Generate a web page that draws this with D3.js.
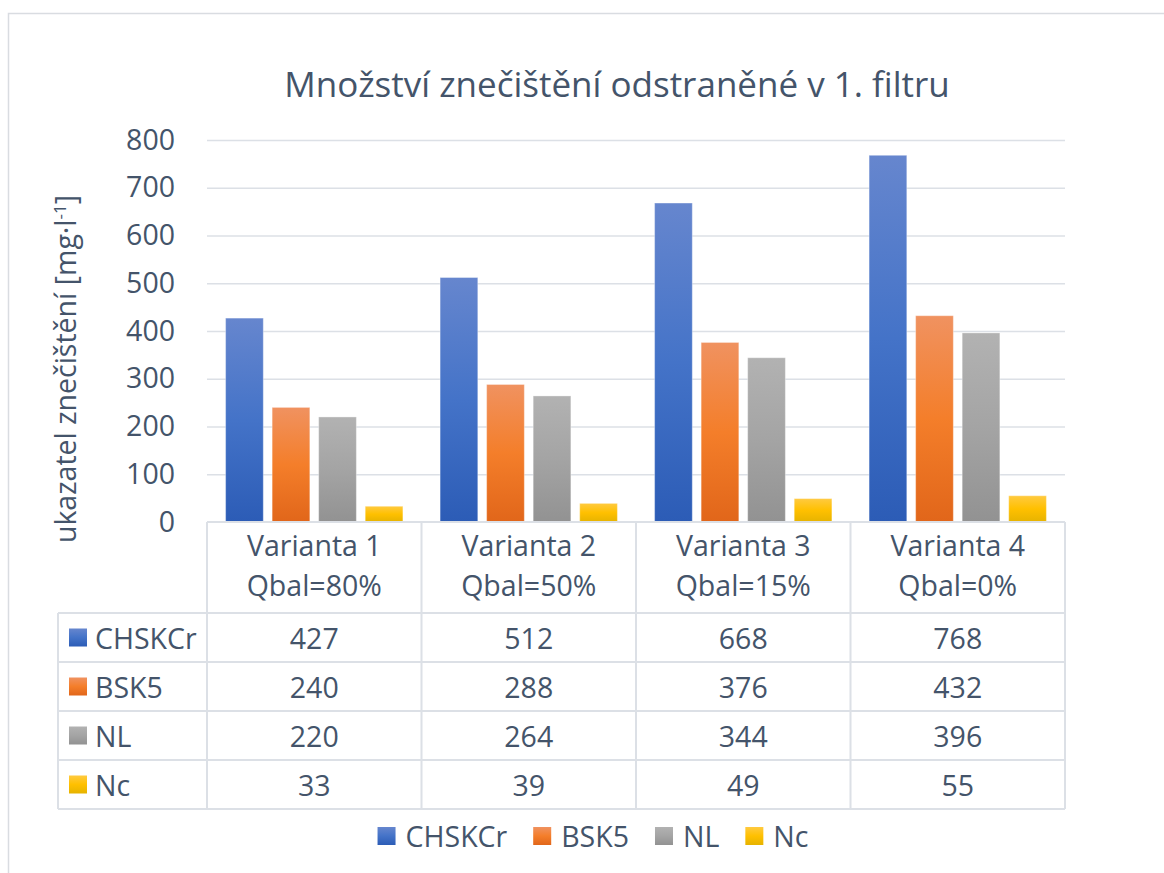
<!DOCTYPE html>
<html>
<head>
<meta charset="utf-8">
<script src="https://cdn.jsdelivr.net/npm/d3@7"></script>
<style>
  body { margin: 0; background: #fff; }
  svg text { font-family: "Open Sans", "Noto Sans", sans-serif; fill: #44546A; }
</style>
</head>
<body>
<svg id="chart" width="1164" height="873"></svg>
<script>
// data
const categories = ['Varianta 1', 'Varianta 2', 'Varianta 3', 'Varianta 4'];
const subLabels = ['Qbal=80%', 'Qbal=50%', 'Qbal=15%', 'Qbal=0%'];
const seriesNames = ['CHSKCr', 'BSK5', 'NL', 'Nc'];
const chskcr = [427, 512, 668, 768];
const bsk5 = [240, 288, 376, 432];
const nl = [220, 264, 344, 396];
const nc = [33, 39, 49, 55];
const yTicks = [0, 100, 200, 300, 400, 500, 600, 700, 800];

const seriesValues = [chskcr, bsk5, nl, nc];
// gradient stops top / middle / bottom
const seriesColors = [
  ['#6686CE', '#4473C8', '#2C5CB6'],
  ['#F09260', '#F47E2A', '#E1661A'],
  ['#B2B2B2', '#A4A4A4', '#929292'],
  ['#FFCA40', '#FFC000', '#E6B300']
];

const lineColor = '#DCE0E6';
const fontSize = '28.5px';
const svg = d3.select('#chart');

// layout
const plot = { left: 207, right: 1065, top: 140, bottom: 522 };
const table = { left: 58, headerBottom: 613, rowH: 49 };

// gradients
const defs = svg.append('defs');
seriesColors.forEach((c, i) => {
  const g = defs.append('linearGradient')
    .attr('id', 'grad' + i)
    .attr('x1', 0).attr('y1', 0).attr('x2', 0).attr('y2', 1);
  g.append('stop').attr('offset', '0%').attr('stop-color', c[0]);
  g.append('stop').attr('offset', '50%').attr('stop-color', c[1]);
  g.append('stop').attr('offset', '100%').attr('stop-color', c[2]);
});

// outer chart border
svg.append('rect')
  .attr('x', 8.5).attr('y', 13.5)
  .attr('width', 1200).attr('height', 900)
  .attr('fill', '#fff')
  .attr('stroke', '#D9DCE1').attr('stroke-width', 1.5);

// title
svg.append('text')
  .attr('x', 617).attr('y', 97)
  .attr('text-anchor', 'middle')
  .style('font-size', '35px')
  .text('Množství znečištění odstraněné v 1. filtru');

// scales
const x0 = d3.scaleBand().domain(categories).range([plot.left, plot.right]);
const x1 = d3.scaleBand().domain(seriesNames)
  .range([18.6, x0.bandwidth() - 18.6])
  .paddingInner(0.19);
const y = d3.scaleLinear().domain([0, 800]).range([plot.bottom, plot.top]);

// y axis + grid
const yAxis = svg.append('g')
  .attr('transform', `translate(${plot.left},0)`)
  .call(d3.axisLeft(y).tickValues(yTicks).tickSize(-(plot.right - plot.left)).tickPadding(32));
yAxis.select('.domain').remove();
yAxis.selectAll('.tick line')
  .attr('stroke', lineColor).attr('stroke-width', 1.5)
  .filter(d => d === 0).remove();
yAxis.selectAll('.tick text')
  .style('font-size', fontSize)
  .style('font-family', '"Open Sans", "Noto Sans", sans-serif')
  .attr('fill', '#44546A');

// y label
svg.append('text')
  .attr('transform', 'translate(76,369) rotate(-90)')
  .attr('text-anchor', 'middle')
  .style('font-size', fontSize)
  .call(t => {
    t.append('tspan').text('ukazatel znečištění [mg·l');
    t.append('tspan').attr('dy', -10).style('font-size', '17px').text('-1');
    t.append('tspan').attr('dy', 10).text(']');
  });

// bars
const groups = svg.append('g').selectAll('g')
  .data(categories)
  .join('g')
  .attr('transform', d => `translate(${x0(d)},0)`);

groups.selectAll('rect')
  .data((d, ci) => seriesNames.map((s, si) => ({ s, si, v: seriesValues[si][ci] })))
  .join('rect')
  .attr('x', d => x1(d.s))
  .attr('width', x1.bandwidth())
  .attr('y', d => y(d.v))
  .attr('height', d => y(0) - y(d.v))
  .attr('fill', d => `url(#grad${d.si})`)
  .attr('stroke', 'rgba(255,255,255,0.35)')
  .attr('stroke-width', 1);

// data table
const tableBottom = table.headerBottom + table.rowH * seriesNames.length;
const tg = svg.append('g').attr('stroke', lineColor).attr('stroke-width', 2).attr('fill', 'none');
// header top line
tg.append('line').attr('x1', plot.left).attr('x2', plot.right)
  .attr('y1', plot.bottom).attr('y2', plot.bottom);
// row lines
d3.range(seriesNames.length + 1).forEach(i => {
  const yy = table.headerBottom + i * table.rowH;
  tg.append('line').attr('x1', table.left).attr('x2', plot.right)
    .attr('y1', yy).attr('y2', yy);
});
// vertical lines
tg.append('line').attr('x1', table.left).attr('x2', table.left)
  .attr('y1', table.headerBottom).attr('y2', tableBottom);
categories.concat(['end']).forEach((c, i) => {
  const xx = i < categories.length ? x0(c) : plot.right;
  tg.append('line').attr('x1', xx).attr('x2', xx)
    .attr('y1', plot.bottom).attr('y2', tableBottom);
});

// category header labels
categories.forEach((c, i) => {
  const cx = x0(c) + x0.bandwidth() / 2;
  svg.append('text').attr('x', cx).attr('y', 556)
    .attr('text-anchor', 'middle').style('font-size', fontSize).text(c);
  svg.append('text').attr('x', cx).attr('y', 596)
    .attr('text-anchor', 'middle').style('font-size', fontSize).text(subLabels[i]);
});

// table rows
seriesNames.forEach((s, si) => {
  const cy = table.headerBottom + si * table.rowH + table.rowH / 2;
  svg.append('rect').attr('x', 69).attr('y', cy - 9)
    .attr('width', 18).attr('height', 18)
    .attr('fill', `url(#grad${si})`);
  svg.append('text').attr('x', 95).attr('y', cy)
    .attr('dominant-baseline', 'central')
    .style('font-size', fontSize).text(s);
  seriesValues[si].forEach((v, ci) => {
    svg.append('text')
      .attr('x', x0(categories[ci]) + x0.bandwidth() / 2).attr('y', cy)
      .attr('text-anchor', 'middle').attr('dominant-baseline', 'central')
      .style('font-size', fontSize).text(v);
  });
});

// bottom legend
const legend = svg.append('g');
let lx = 0;
seriesNames.forEach((s, si) => {
  const item = legend.append('g').attr('transform', `translate(${lx},0)`);
  item.append('rect').attr('x', 0).attr('y', -9)
    .attr('width', 18).attr('height', 18)
    .attr('fill', `url(#grad${si})`);
  const t = item.append('text').attr('x', 28).attr('y', 0)
    .attr('dominant-baseline', 'central')
    .style('font-size', fontSize).text(s);
  lx += 28 + t.node().getComputedTextLength() + 26;
});
const legendW = lx - 26;
legend.attr('transform', `translate(${593 - legendW / 2},836)`);
</script>
</body>
</html>
